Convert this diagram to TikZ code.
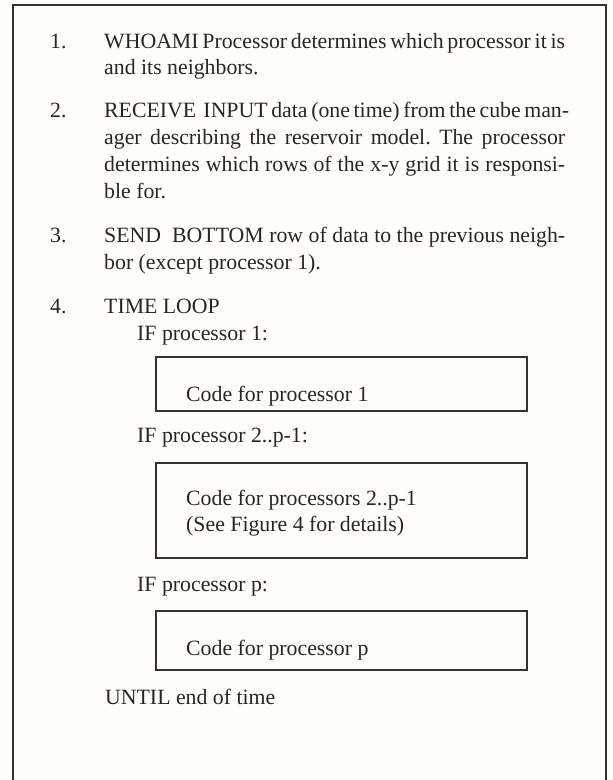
\documentclass[tikz,border=0pt]{standalone}
\usepackage{fontspec}
\setmainfont{Liberation Serif}
\frenchspacing
\newlength{\jw}
\setlength{\jw}{461pt}
\newcommand{\jline}[1]{\makebox[\jw][s]{#1}}
\begin{document}
\begin{tikzpicture}[x=1pt,y=-1pt,
  txt/.style={anchor=base west,inner sep=0pt,font=\fontsize{21.8}{27}\selectfont,text=black!85},
  frame/.style={draw=black!80,line width=1.8pt},
  codebox/.style={draw=black!80,line width=1.8pt}]
  % page and outer frame (open at the bottom)
  \fill[white!97!yellow] (0,0) rectangle (613,780);
  \useasboundingbox (0,0) rectangle (613,780);
  \draw[frame] (13,790) -- (13,5) -- (606,5) -- (606,790);

  % numbered steps
  \node[txt] (n1) at (50,48) {1.};
  \node[txt] (s1a) at (104,48) {\jline{WHOAMI Processor determines which processor it is}};
  \node[txt] (s1b) at (104,74) {and its neighbors.};

  \node[txt] (n2) at (50,117) {2.};
  \node[txt] (s2a) at (104,117) {\jline{RECEIVE\ \ INPUT data (one time) from the cube man-}};
  \node[txt] (s2b) at (104,144) {\jline{ager describing the reservoir model. The processor}};
  \node[txt] (s2c) at (104,171) {\jline{determines which rows of the x-y grid it is responsi-}};
  \node[txt] (s2d) at (104,198) {ble for.};

  \node[txt] (n3) at (50,242) {3.};
  \node[txt] (s3a) at (104,242) {\jline{SEND\ \ BOTTOM row of data to the previous neigh-}};
  \node[txt] (s3b) at (104,269) {bor (except processor 1).};

  \node[txt] (n4) at (50,313) {4.};
  \node[txt] (s4) at (104,313) {TIME LOOP};

  % branches of the time loop
  \node[txt] (if1) at (137,340) {IF processor 1:};
  \draw[codebox] (156,357) rectangle (527,411);
  \node[txt] (c1) at (186,401) {Code for processor 1};

  \node[txt] (if2) at (137,442) {IF processor 2..p-1:};
  \draw[codebox] (156,463) rectangle (527,558);
  \node[txt] (c2a) at (186,505) {Code for processors 2..p-1};
  \node[txt] (c2b) at (186,531) {(See Figure 4 for details)};

  \node[txt] (ifp) at (137,591) {IF processor p:};
  \draw[codebox] (156,611) rectangle (527,670);
  \node[txt] (cp) at (186,655) {Code for processor p};

  \node[txt] (until) at (105,704) {UNTIL end of time};
\end{tikzpicture}
\end{document}
